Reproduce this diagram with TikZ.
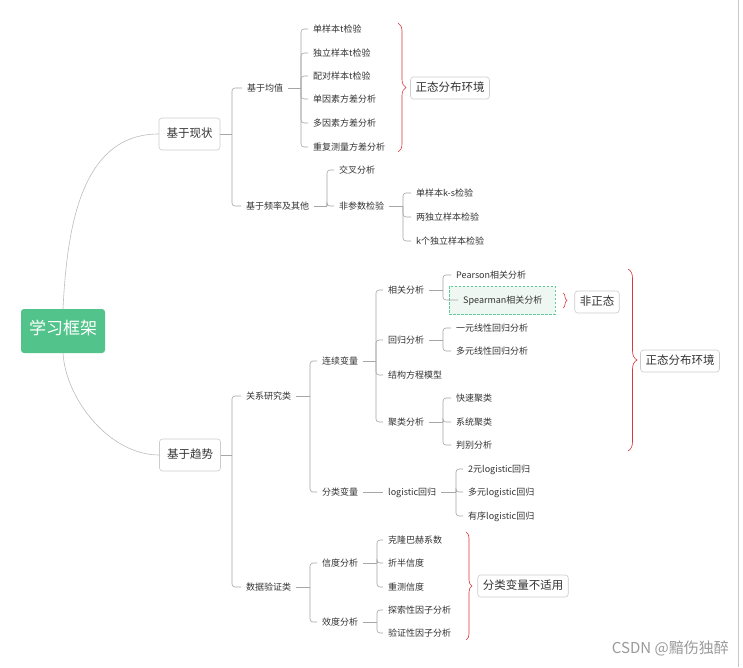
\documentclass[tikz,border=0pt]{standalone}
\usepackage{fontspec}
\setmainfont{Noto Sans CJK SC}
\usetikzlibrary{decorations.pathreplacing}
\definecolor{txt}{HTML}{333333}
\definecolor{conncol}{HTML}{A6A6A6}
\definecolor{curvecol}{HTML}{BDBDBD}
\definecolor{rootgreen}{HTML}{51C38B}
\definecolor{boxborder}{HTML}{CCCCCC}
\definecolor{bracered}{HTML}{D9363E}
\definecolor{spfill}{HTML}{EEF7F1}
\definecolor{spborder}{HTML}{5FCB96}
\definecolor{wmcol}{HTML}{9A9A9A}
\definecolor{edgecol}{HTML}{C8C8C8}
\newcommand\leafsize{\fontsize{9}{11}\selectfont}
\newcommand\mytree[3]{%
  \path (#2,0) coordinate (tmpbar);
  \draw[conn] (#1.east) -- (#1.east -| tmpbar);
  \foreach \c in {#3}{\draw[conn,rounded corners=3pt] (#1.east -| tmpbar) |- (\c.west);}
}
\tikzset{
  leaf/.style={anchor=west, inner xsep=5pt, inner ysep=1pt, text height=0.75em, text depth=0pt, font=\leafsize, text=txt},
  conn/.style={draw=conncol, line width=0.6pt},
  curvel/.style={draw=curvecol, line width=0.6pt},
  topbox/.style={draw=boxborder, fill=white, rounded corners=3pt, line width=0.6pt, font=\fontsize{11.5}{13}\selectfont, text=txt, text height=0.75em, text depth=0pt, inner xsep=7.5pt, minimum height=32pt},
  notebox/.style={draw=boxborder, fill=white, rounded corners=3pt, line width=0.6pt, font=\fontsize{11.5}{13}\selectfont, text=txt, text height=0.75em, text depth=0pt, inner xsep=5pt, minimum height=22pt},
  rootbox/.style={fill=rootgreen, rounded corners=3pt, text=white, font=\fontsize{17}{19}\selectfont, text height=0.75em, text depth=0pt, minimum width=84pt, minimum height=44pt},
  spbox/.style={draw=spborder, fill=spfill, dash pattern=on 2.5pt off 1.5pt, line width=0.9pt},
  redbrace/.style={draw=bracered, line width=0.6pt, decorate, decoration={brace, amplitude=#1}},
}
\begin{document}
\begin{tikzpicture}[x=1pt,y=-1pt]
\useasboundingbox (0,0) rectangle (743,667);
\fill[white] (0,0) rectangle (743,667);
\draw[edgecol, line width=1pt] (738.5,0) -- (738.5,667);

% root and first level
\node[rootbox] (root) at (63,331) {学习框架};
\node[topbox] (n1) at (189.5,134) {基于现状};
\node[topbox] (n2) at (190,455) {基于趋势};
\draw[curvel] (root.north) .. controls (67,230) and (80,134) .. (n1.west);
\draw[curvel] (root.south) .. controls (66,400) and (110,455) .. (n2.west);

% 基于现状 branch
\node[leaf] (a1) at (242,88) {基于均值};
\node[leaf] (a2) at (241,206) {基于频率及其他};
\node[leaf] (m1) at (308,29) {单样本t检验};
\node[leaf] (m2) at (308,53) {独立样本t检验};
\node[leaf] (m3) at (308,76) {配对样本t检验};
\node[leaf] (m4) at (308,99) {单因素方差分析};
\node[leaf] (m5) at (308,123) {多因素方差分析};
\node[leaf] (m6) at (308,147) {重复测量方差分析};
\node[leaf] (p1) at (334,170) {交叉分析};
\node[leaf] (p2) at (334,206) {非参数检验};
\node[leaf] (q1) at (411,193) {单样本k-s检验};
\node[leaf] (q2) at (411,217) {两独立样本检验};
\node[leaf] (q3) at (411,241) {k个独立样本检验};

% 基于趋势 branch
\node[leaf] (b1) at (241,396) {关系研究类};
\node[leaf] (b2) at (241,587) {数据验证类};
\node[leaf] (c1) at (317,361) {连续变量};
\node[leaf] (c2) at (317,492) {分类变量};
\node[leaf] (d1) at (383,290) {相关分析};
\node[leaf] (d2) at (383,340) {回归分析};
\node[leaf] (d3) at (383,375) {结构方程模型};
\node[leaf] (d4) at (383,422) {聚类分析};
\node[leaf] (e1) at (451,275) {Pearson相关分析};
\node[spbox, minimum width=106pt, minimum height=28pt] (spb) at (502,300) {};
\node[leaf] (e2) at (458,300) {Spearman相关分析};
\node[leaf] (f1) at (451,328) {一元线性回归分析};
\node[leaf] (f2) at (451,351) {多元线性回归分析};
\node[leaf] (g1) at (451,398) {快速聚类};
\node[leaf] (g2) at (451,422) {系统聚类};
\node[leaf] (g3) at (451,445) {判别分析};
\node[leaf] (h) at (383,492) {logistic回归};
\node[leaf] (i1) at (463,469) {2元logistic回归};
\node[leaf] (i2) at (463,492) {多元logistic回归};
\node[leaf] (i3) at (463,516) {有序logistic回归};
\node[leaf] (j1) at (317,563) {信度分析};
\node[leaf] (j2) at (317,622) {效度分析};
\node[leaf] (k1) at (383,540) {克隆巴赫系数};
\node[leaf] (k2) at (383,563) {折半信度};
\node[leaf] (k3) at (383,587) {重测信度};
\node[leaf] (l1) at (383,610) {探索性因子分析};
\node[leaf] (l2) at (383,633) {验证性因子分析};

% connectors
\mytree{n1}{232}{a1,a2}
\mytree{a1}{301}{m1,m2,m3,m4,m5,m6}
\mytree{a2}{327}{p1,p2}
\mytree{p2}{403}{q1,q2,q3}
\mytree{n2}{232}{b1,b2}
\mytree{b1}{310}{c1,c2}
\mytree{c1}{376}{d1,d2,d3,d4}
\mytree{d1}{443}{e1,e2}
\mytree{d2}{443}{f1,f2}
\mytree{d4}{443}{g1,g2,g3}
\draw[conn] (c2.east) -- (h.west);
\mytree{h}{456}{i1,i2,i3}
\mytree{b2}{310}{j1,j2}
\mytree{j1}{377}{k1,k2,k3}
\mytree{j2}{377}{l1,l2}

% braces and notes
\draw[redbrace=8pt] (398,23) -- (398,152);
\node[notebox] (note1) at (450,88) {正态分布环境};
\draw[redbrace=4pt] (563,293) -- (563,308);
\node[notebox] (note2) at (597,302) {非正态};
\draw[redbrace=9pt] (628,269) -- (628,451);
\node[notebox] (note3) at (680,361) {正态分布环境};
\draw[redbrace=6pt] (466,532) -- (466,640);
\node[notebox] (note4) at (523,586) {分类变量不适用};

% watermark
\node[anchor=east, inner sep=0pt, font=\fontsize{15}{17}\selectfont, text=wmcol] (wm) at (729,648) {CSDN @黯伤独醉};
\end{tikzpicture}
\end{document}
